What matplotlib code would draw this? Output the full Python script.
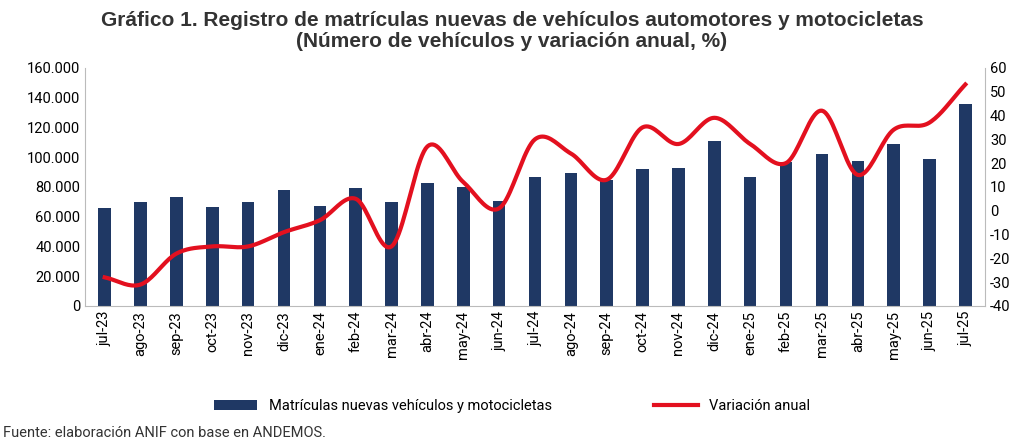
import numpy as np
import matplotlib.pyplot as plt
from matplotlib.ticker import FuncFormatter

plt.rcParams['font.family'] = ['Roboto', 'DejaVu Sans']

months = ["jul-23", "ago-23", "sep-23", "oct-23", "nov-23", "dic-23", "ene-24", "feb-24",
          "mar-24", "abr-24", "may-24", "jun-24", "jul-24", "ago-24", "sep-24", "oct-24",
          "nov-24", "dic-24", "ene-25", "feb-25", "mar-25", "abr-25", "may-25", "jun-25", "jul-25"]
matriculas = [65500, 69700, 73100, 66200, 69700, 77900, 66900, 79300, 69700, 82800, 80000, 70300,
              86900, 89000, 84800, 91700, 92400, 111000, 86900, 96600, 102000, 97200, 109000, 98600, 135900]
variacion = [-28, -31, -18, -15, -15, -9, -4, 5, -15, 27, 12, 1, 30, 24, 13, 35, 28, 39, 28, 20,
             42, 15, 34, 37, 53]

navy = "#1f3864"
red = "#e3101f"


def smooth(x, y, n=20):
    # Catmull-Rom curve through the points, only for drawing
    x = np.asarray(x, float)
    y = np.asarray(y, float)
    px = np.concatenate([[2 * x[0] - x[1]], x, [2 * x[-1] - x[-2]]])
    py = np.concatenate([[2 * y[0] - y[1]], y, [2 * y[-1] - y[-2]]])
    xs, ys = [], []
    t = np.linspace(0, 1, n, endpoint=False)
    for i in range(1, len(px) - 2):
        for p, out in ((px, xs), (py, ys)):
            p0, p1, p2, p3 = p[i - 1], p[i], p[i + 1], p[i + 2]
            out.extend(0.5 * (2 * p1 + (-p0 + p2) * t + (2 * p0 - 5 * p1 + 4 * p2 - p3) * t ** 2
                              + (-p0 + 3 * p1 - 3 * p2 + p3) * t ** 3))
    xs.append(x[-1])
    ys.append(y[-1])
    return xs, ys


fig = plt.figure(figsize=(10.24, 4.46), dpi=100)
ax = fig.add_axes([0.083, 0.314, 0.879, 0.534])
x = np.arange(len(months))
ax.bar(x, matriculas, width=0.35, color=navy, label="Matrículas nuevas vehículos y motocicletas")
ax.set_ylim(0, 160000)
ax.set_yticks(range(0, 160001, 20000))
ax.yaxis.set_major_formatter(FuncFormatter(lambda v, p: f"{int(v):,}".replace(",", ".")))
ax.set_xlim(-0.55, len(months) - 0.45)
ax.set_xticks(x)
ax.set_xticklabels(months, rotation=90)
for s in ["top", "right"]:
    ax.spines[s].set_visible(False)
ax.spines["left"].set_color("#bbbbbb")
ax.spines["bottom"].set_color("#bbbbbb")
ax.tick_params(length=0, labelsize=10.5)

ax2 = ax.twinx()
sx, sy = smooth(x, variacion)
ax2.plot(sx, sy, color=red, lw=3, label="Variación anual")
ax2.set_ylim(-40, 60)
ax2.set_yticks(range(-40, 61, 10))
ax2.yaxis.set_major_formatter(FuncFormatter(lambda v, p: f"{int(v)}"))
for s in ["top", "left", "bottom"]:
    ax2.spines[s].set_visible(False)
ax2.spines["right"].set_color("#bbbbbb")
ax2.tick_params(length=0, labelsize=10.5)

fig.text(0.5, 0.975, "Gráfico 1. Registro de matrículas nuevas de vehículos automotores y motocicletas\n"
         "(Número de vehículos y variación anual, %)", ha="center", va="top",
         fontsize=15, fontweight="bold", color="#333333", linespacing=1.1,
         family=["Liberation Sans", "DejaVu Sans"])
h1, l1 = ax.get_legend_handles_labels()
h2, l2 = ax2.get_legend_handles_labels()
fig.legend(h1 + h2, l1 + l2, loc="center", bbox_to_anchor=(0.5, 0.09), ncol=2, frameon=False,
           fontsize=10.5, columnspacing=7, handlelength=3)
fig.text(0.003, 0.02, "Fuente: elaboración ANIF con base en ANDEMOS.", fontsize=10.5, color="#333333")
fig.savefig("out.png")
